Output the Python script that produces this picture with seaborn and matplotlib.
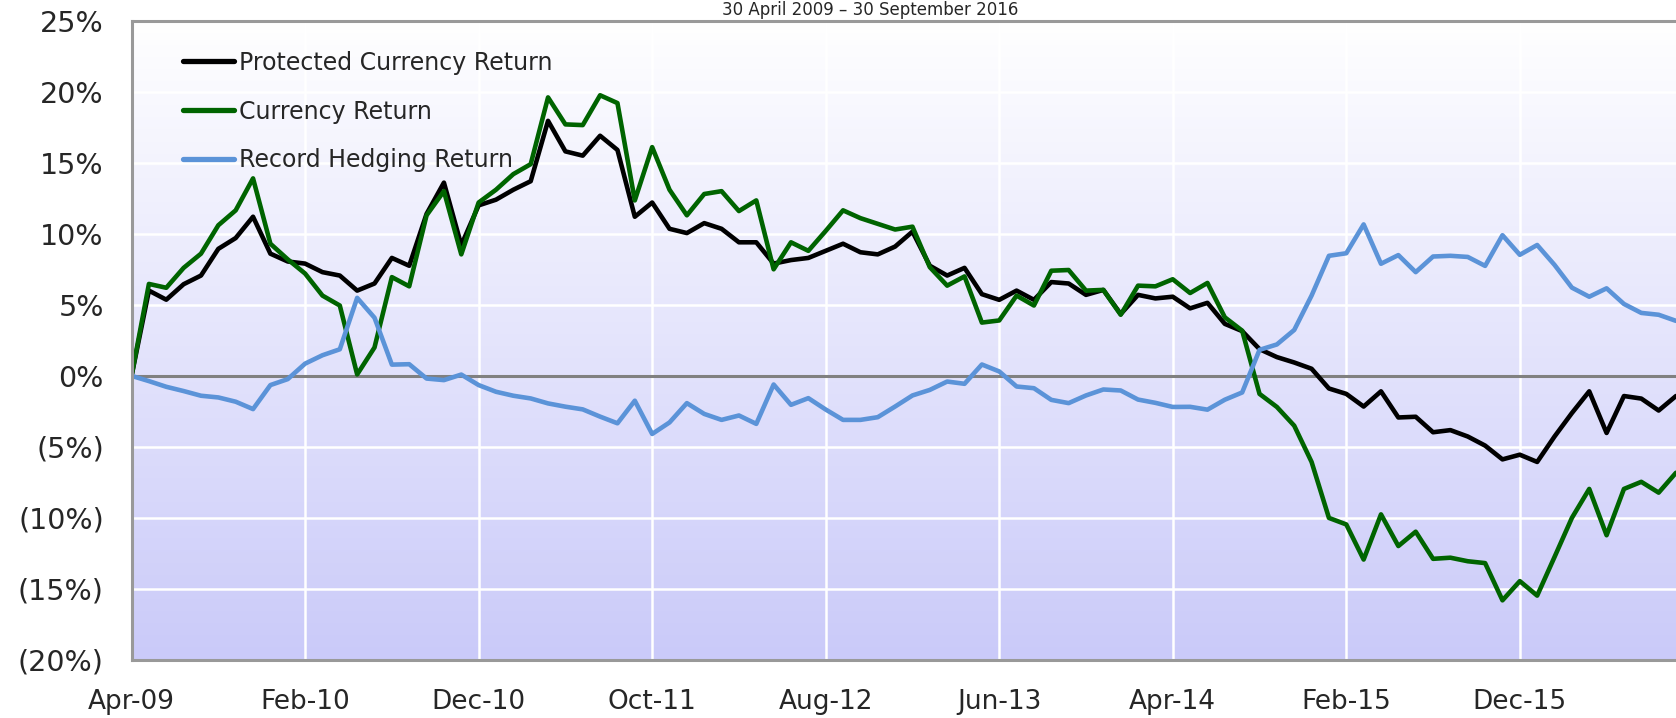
import numpy as np
import pandas as pd
import matplotlib
matplotlib.use("Agg")
import matplotlib.pyplot as plt
import seaborn as sns
from matplotlib.colors import LinearSegmentedColormap
from matplotlib.lines import Line2D

# monthly returns in %, 30 Apr 2009 .. 30 Sep 2016
dates = pd.date_range("2009-04-30", periods=90, freq="ME")

protected = [0.0, 6.0, 5.36, 6.45, 7.06, 8.94, 9.7, 11.2, 8.6, 8.05,
             7.9, 7.3, 7.06, 6.0, 6.5, 8.3, 7.75, 11.4, 13.6, 9.2,
             12.0, 12.4, 13.1, 13.7, 17.95, 15.8, 15.5, 16.9, 15.9, 11.2,
             12.2, 10.35, 10.05, 10.75, 10.35, 9.4, 9.4, 7.9, 8.15, 8.3,
             8.8, 9.3, 8.7, 8.55, 9.1, 10.15, 7.75, 7.06, 7.6, 5.75,
             5.35, 6.0, 5.35, 6.6, 6.5, 5.7, 6.05, 4.35, 5.7, 5.45,
             5.57, 4.75, 5.14, 3.66, 3.15, 1.88, 1.32, 0.94, 0.5, -0.89,
             -1.27, -2.16, -1.09, -2.93, -2.88, -3.97, -3.82, -4.27, -4.91, -5.88,
             -5.55, -6.06, -4.27, -2.62, -1.09, -4.02, -1.42, -1.6, -2.44, -1.42]

currency = [0.0, 6.47, 6.2, 7.6, 8.6, 10.6, 11.65, 13.9, 9.3, 8.2,
            7.2, 5.65, 4.95, 0.1, 2.0, 6.95, 6.3, 11.3, 13.0, 8.55,
            12.2, 13.1, 14.2, 14.9, 19.6, 17.7, 17.65, 19.75, 19.2, 12.35,
            16.1, 13.1, 11.3, 12.8, 13.0, 11.6, 12.35, 7.5, 9.4, 8.8,
            10.2, 11.65, 11.1, 10.7, 10.3, 10.5, 7.65, 6.35, 7.0, 3.75,
            3.9, 5.65, 4.95, 7.4, 7.45, 6.0, 6.05, 4.3, 6.35, 6.3,
            6.8, 5.83, 6.54, 4.12, 3.18, -1.27, -2.19, -3.51, -6.06, -10.0,
            -10.46, -12.93, -9.75, -11.98, -10.97, -12.88, -12.8, -13.05, -13.18, -15.8,
            -14.45, -15.47, -12.75, -10.0, -7.96, -11.22, -7.96, -7.46, -8.22, -6.82]

hedging = [0.0, -0.37, -0.77, -1.07, -1.4, -1.52, -1.82, -2.34, -0.65, -0.23,
           0.86, 1.45, 1.87, 5.49, 4.09, 0.79, 0.82, -0.19, -0.3, 0.09,
           -0.65, -1.12, -1.4, -1.59, -1.94, -2.17, -2.36, -2.87, -3.34, -1.75,
           -4.09, -3.28, -1.92, -2.68, -3.1, -2.79, -3.38, -0.61, -2.04, -1.57,
           -2.37, -3.1, -3.1, -2.91, -2.16, -1.38, -0.99, -0.4, -0.56, 0.8,
           0.31, -0.75, -0.87, -1.69, -1.92, -1.38, -0.96, -1.03, -1.67, -1.9,
           -2.19, -2.18, -2.38, -1.68, -1.17, 1.83, 2.21, 3.23, 5.65, 8.45,
           8.63, 10.66, 7.89, 8.5, 7.3, 8.4, 8.45, 8.37, 7.74, 9.9,
           8.52, 9.21, 7.81, 6.21, 5.57, 6.16, 5.06, 4.43, 4.3, 3.87]

series_names = ["Protected Currency Return", "Currency Return", "Record Hedging Return"]
series_colors = ["#000000", "#006400", "#5b93d8"]
y_ticks = [25, 20, 15, 10, 5, 0, -5, -10, -15, -20]
title = "30 April 2009 \u2013 30 September 2016"

month = np.arange(len(dates))
df = pd.DataFrame({"month": month, series_names[0]: protected,
                   series_names[1]: currency, series_names[2]: hedging})
long_df = df.melt(id_vars="month", var_name="series", value_name="ret")

sns.set_style("white")
plt.rcParams["font.family"] = ["DejaVu Sans"]

fig = plt.figure(figsize=(16.76, 7.18), dpi=100)
ax = fig.add_axes([0.0785, 0.0808, 0.9215, 0.8904])

# gradient background, white at top to lavender at bottom
grad = LinearSegmentedColormap.from_list("bg", ["#ffffff", "#cacaf9"])
ax.imshow(np.linspace(0, 1, 256).reshape(-1, 1), extent=[0, 89, -20, 25],
          aspect="auto", cmap=grad, zorder=0, interpolation="bilinear")

ax.axhline(0, color="#808080", lw=2.2, zorder=1.5)

sns.lineplot(data=long_df, x="month", y="ret", hue="series", hue_order=series_names,
             palette=series_colors, lw=3.3, ax=ax, legend=False, zorder=2)

ax.set_xlim(0, 89)
ax.set_ylim(-20, 25)

xt = month[::10]
ax.set_xticks(xt)
ax.set_xticklabels([dates[i].strftime("%b-%y") for i in xt])
ax.set_yticks(y_ticks)
ax.set_yticklabels([f"{v}%" if v >= 0 else f"({-v}%)" for v in y_ticks])
ax.set_xlabel("")
ax.set_ylabel("")

ax.grid(True, color="white", lw=1.8)
ax.set_axisbelow(True)
ax.tick_params(axis="y", length=7, width=1.8, color="#999999", pad=13, labelsize=20.5)
ax.tick_params(axis="x", length=0, pad=21, labelsize=19)

for side in ["left", "bottom", "top"]:
    ax.spines[side].set_color("#999999")
    ax.spines[side].set_linewidth(2.2)
ax.spines["right"].set_visible(False)

handles = [Line2D([], [], color=c, lw=3.8) for c in series_colors]
ax.legend(handles, series_names, loc="upper left", bbox_to_anchor=(0.033, 0.953),
          frameon=False, fontsize=17, handlelength=2.2, handletextpad=0.2,
          labelspacing=1.05, borderpad=0, borderaxespad=0)

# title sits in the thin strip above the plot
fig.text(0.519, 0.999, title, ha="center", va="top", fontsize=12)

fig.savefig("out.png", dpi=100)
